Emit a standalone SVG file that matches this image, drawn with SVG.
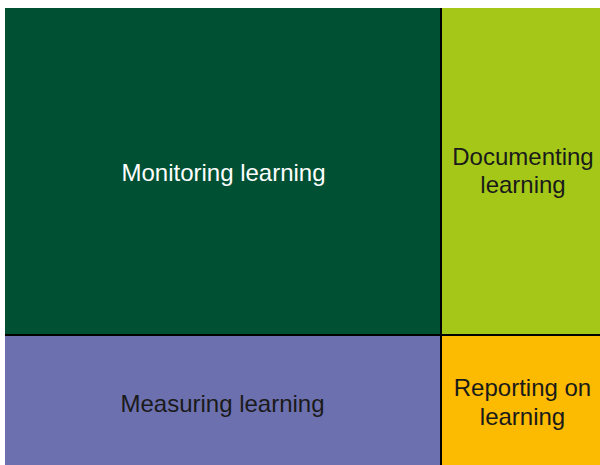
<svg xmlns="http://www.w3.org/2000/svg" width="600" height="465" viewBox="0 0 600 465">
<style>
.lbl{font-family:"Liberation Sans",Arial,sans-serif;font-size:24px;text-anchor:middle}
.w{fill:#ffffff}
.k{fill:#1a1a1a}
</style>
<rect x="0" y="0" width="600" height="465" fill="#ffffff"/>
<g id="monitoring">
<rect x="5" y="8" width="436" height="327" fill="#005034"/>
<text class="lbl w" x="223.5" y="181">Monitoring learning</text>
</g>
<g id="documenting">
<rect x="441" y="8" width="159" height="327" fill="#a5c818"/>
<text class="lbl k" x="523" y="165">Documenting</text>
<text class="lbl k" x="523" y="193">learning</text>
</g>
<g id="measuring">
<rect x="5" y="335" width="436" height="130" fill="#6d70af"/>
<text class="lbl k" x="222.5" y="412">Measuring learning</text>
</g>
<g id="reporting">
<rect x="441" y="335" width="159" height="130" fill="#fcba00"/>
<text class="lbl k" x="522.5" y="396">Reporting on</text>
<text class="lbl k" x="522.5" y="425">learning</text>
</g>
<g id="connectors">
<line x1="441" y1="8" x2="441" y2="465" stroke="#000" stroke-width="2"/>
<line x1="5" y1="335" x2="600" y2="335" stroke="#000" stroke-width="2"/>
</g>
</svg>
